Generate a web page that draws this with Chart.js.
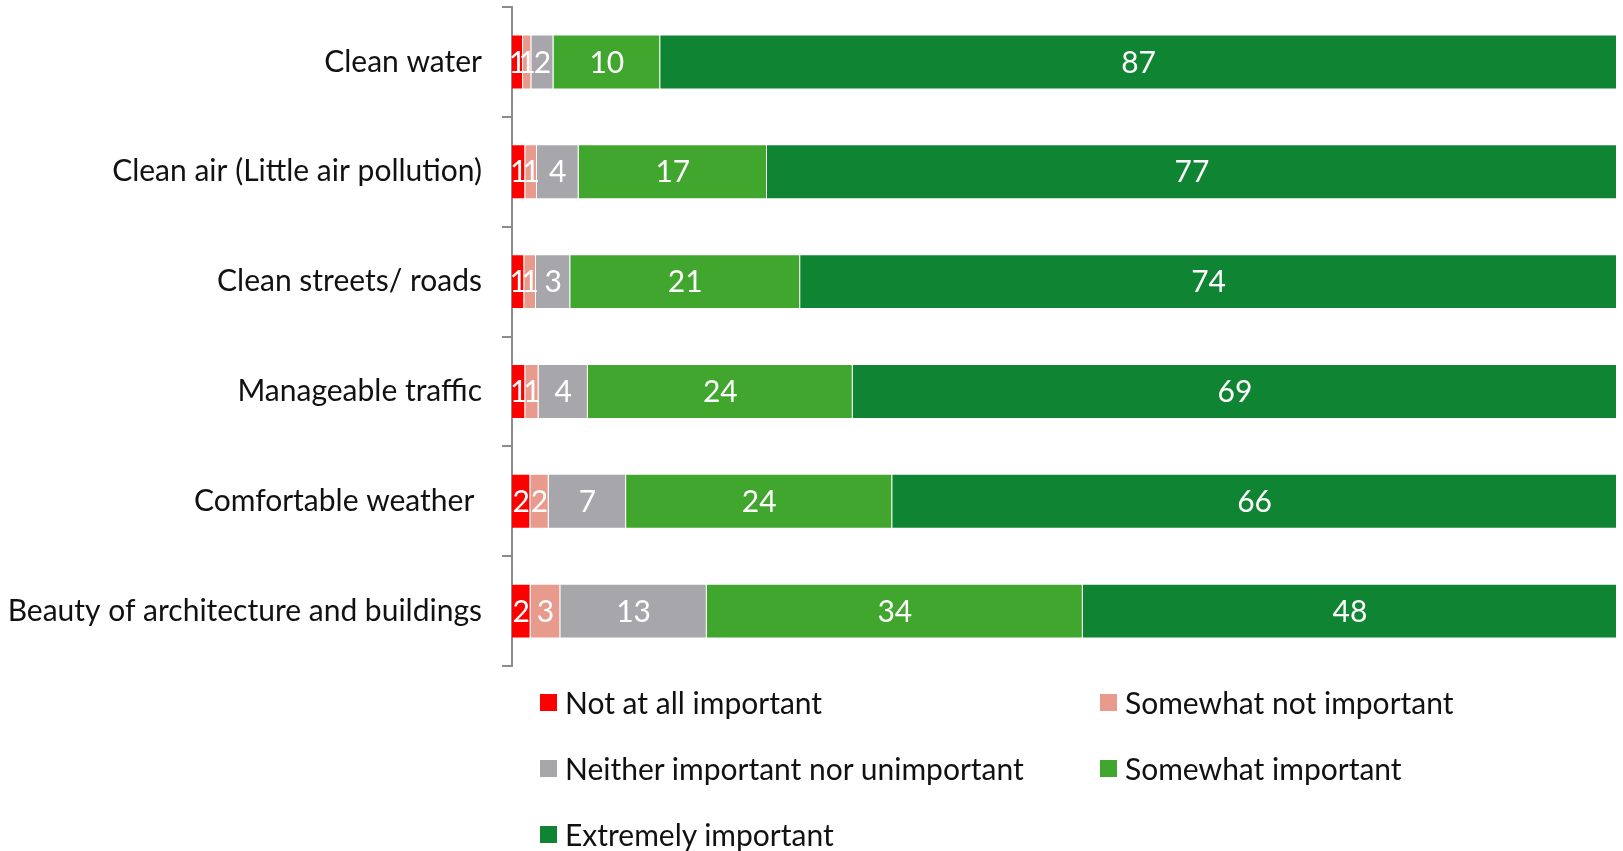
<!DOCTYPE html>
<html>
<head>
<meta charset="utf-8">
<script src="https://cdn.jsdelivr.net/npm/chart.js@4.4.1/dist/chart.umd.min.js"></script>
<style>
  html, body { margin: 0; padding: 0; background: #fff; }
  #wrap { position: relative; width: 1623px; height: 851px; }
  #legend {
    position: absolute; left: 540px; top: 685px;
    display: grid; grid-template-columns: 560px 500px; row-gap: 32px;
    font-family: Lato, "Open Sans", sans-serif; font-size: 30px; color: #111;
  }
  .item { display: flex; align-items: center; height: 34px; white-space: nowrap; }
  .box { width: 17px; height: 17px; margin-right: 8px; flex: none; }
</style>
</head>
<body>
<div id="wrap">
  <canvas id="chart" width="1623" height="851"></canvas>
  <div id="legend"></div>
</div>
<script>
(function() {
    "use strict";

    // Kategorije i procenti (procijenjeni sa slike, natpisi su zaokruženi)
    const categories = [
        'Clean water',
        'Clean air (Little air pollution)',
        'Clean streets/ roads',
        'Manageable traffic',
        'Comfortable weather ',
        'Beauty of architecture and buildings'
    ];
    const notAtAll = [1.0, 1.2, 1.11, 1.2, 1.66, 1.68];
    const somewhatNot = [0.75, 1.06, 1.06, 1.2, 1.66, 2.69];
    const neither = [2.0, 3.77, 3.1, 4.46, 7.0, 13.24];
    const somewhat = [9.65, 17.04, 20.8, 23.95, 24.07, 34.0];
    const extremely = [86.5, 76.9, 73.9, 69.1, 65.55, 48.3];

    const seriesNames = ['Not at all important', 'Somewhat not important',
        'Neither important nor unimportant', 'Somewhat important', 'Extremely important'];
    const seriesValues = [notAtAll, somewhatNot, neither, somewhat, extremely];
    const colors = ['#FF0000', '#E89A8C', '#A7A7AB', '#41A62E', '#0F8533'];

    // 100% stacked: svaki red se normalizuje na zbir
    const rowSums = categories.map(function(_, i) {
        return seriesValues.reduce(function(s, arr) { return s + arr[i]; }, 0);
    });

    const datasets = seriesNames.map(function(name, k) {
        return {
            label: name,
            data: seriesValues[k].map(function(v, i) { return v / rowSums[i] * 100; }),
            raw: seriesValues[k],
            backgroundColor: colors[k],
            borderColor: 'rgba(255,255,255,0.25)',
            borderWidth: 1,
            barPercentage: 0.5,
            categoryPercentage: 1
        };
    });

    const FONT = 'Lato, "Open Sans", sans-serif';

    // Plugin za natpise u segmentima
    const valueLabels = {
        id: 'valueLabels',
        afterDatasetsDraw: function(chart) {
            const ctx = chart.ctx;
            ctx.save();
            ctx.fillStyle = '#fff';
            ctx.font = '30px ' + FONT;
            ctx.textAlign = 'center';
            ctx.textBaseline = 'middle';
            chart.data.datasets.forEach(function(ds, di) {
                chart.getDatasetMeta(di).data.forEach(function(bar, i) {
                    const cx = (bar.x + bar.base) / 2;
                    ctx.fillText(String(Math.round(ds.raw[i])), cx, bar.y + 1);
                });
            });
            ctx.restore();
        }
    };

    const chart = new Chart(document.getElementById('chart'), {
        type: 'bar',
        data: { labels: categories, datasets: datasets },
        options: {
            indexAxis: 'y',
            responsive: false,
            animation: false,
            layout: { padding: { top: 7, right: 6, bottom: 185, left: 0 } },
            plugins: {
                legend: { display: false },
                tooltip: { enabled: false }
            },
            scales: {
                x: {
                    stacked: true, min: 0, max: 100, display: false
                },
                y: {
                    stacked: true,
                    offset: true,
                    afterFit: function(scale) {
                        scale.width = 512;
                        scale.paddingTop = 0;
                        scale.paddingBottom = 0;
                    },
                    border: { display: true, color: '#8c8c8c', width: 2 },
                    grid: {
                        offset: true, drawOnChartArea: false, drawTicks: true,
                        tickLength: 10, color: '#8c8c8c', lineWidth: 2
                    },
                    ticks: {
                        color: '#111', padding: 20,
                        font: { family: FONT, size: 30 }
                    }
                }
            }
        },
        plugins: [valueLabels]
    });

    // HTML legenda u dvije kolone
    const legend = document.getElementById('legend');
    chart.data.datasets.forEach(function(ds) {
        const item = document.createElement('div');
        item.className = 'item';
        item.innerHTML = '<span class="box" style="background:' + ds.backgroundColor + '"></span>' + ds.label;
        legend.appendChild(item);
    });
})();
</script>
</body>
</html>
